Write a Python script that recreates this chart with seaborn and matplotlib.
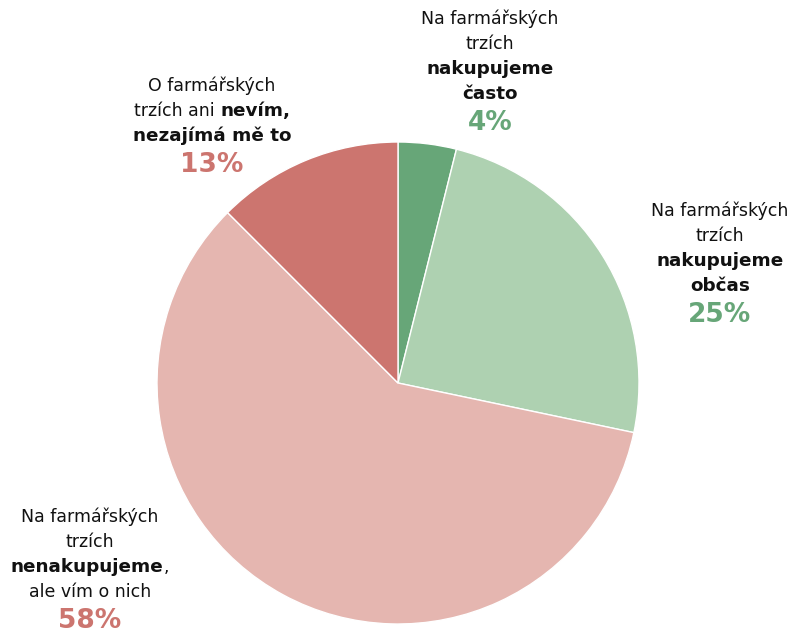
import matplotlib
matplotlib.use("Agg")
import matplotlib.pyplot as plt
import seaborn as sns
from matplotlib.offsetbox import TextArea, HPacker, VPacker, AnnotationBbox

sns.set_style("white")
plt.rcParams['font.family'] = ['DejaVu Sans']

# data
categories = ["nakupujeme často", "nakupujeme občas", "nenakupujeme", "nevím"]
shares = [3.9, 24.4, 59.2, 12.5]          # slice sizes as drawn
pct_labels = ["4%", "25%", "58%", "13%"]  # percentages as printed
colors = ["#67a678", "#aed1b1", "#e5b6b0", "#cc756f"]
pct_colors = ["#67a678", "#67a678", "#cc756f", "#cc756f"]

# label lines: list of (text, bold) pieces per line
label_lines = [
    [[("Na farmářských", False)], [("trzích", False)], [("nakupujeme", True)], [("často", True)]],
    [[("Na farmářských", False)], [("trzích", False)], [("nakupujeme", True)], [("občas", True)]],
    [[("Na farmářských", False)], [("trzích", False)], [("nenakupujeme", True), (",", False)],
     [("ale vím o nich", False)]],
    [[("O farmářských", False)], [("trzích ani ", False), ("nevím,", True)], [("nezajímá mě to", True)]],
]
# label block centres in figure fraction
label_pos = [(490 / 798, 1 - 73 / 634), (720 / 798, 1 - 265 / 634),
             (90 / 798, 1 - 571 / 634), (212 / 798, 1 - 127 / 634)]

fig = plt.figure(figsize=(7.98, 6.34), dpi=100)
ax = fig.add_axes([157 / 798, 10 / 634, 482 / 798, 482 / 634])
ax.pie(shares, colors=colors, startangle=90, counterclock=False, radius=1,
       wedgeprops=dict(edgecolor="white", linewidth=1))
ax.set_xlim(-1, 1)
ax.set_ylim(-1, 1)
ax.set_aspect("equal")
ax.axis("off")

for lines, pct, pc, pos in zip(label_lines, pct_labels, pct_colors, label_pos):
    rows = []
    for line in lines:
        parts = [TextArea(t, textprops=dict(fontsize=13.2 if b else 12.5, color="#111111",
                                             fontweight="bold" if b else "normal"))
                 for t, b in line]
        rows.append(HPacker(children=parts, align="baseline", pad=0, sep=0))
    rows.append(TextArea(pct, textprops=dict(fontsize=19, color=pc, fontweight="bold")))
    box = VPacker(children=rows, align="center", pad=0, sep=5.0)
    ab = AnnotationBbox(box, pos, xycoords="figure fraction", frameon=False,
                        box_alignment=(0.5, 0.5))
    fig.add_artist(ab)

fig.savefig("out.png", dpi=100)
